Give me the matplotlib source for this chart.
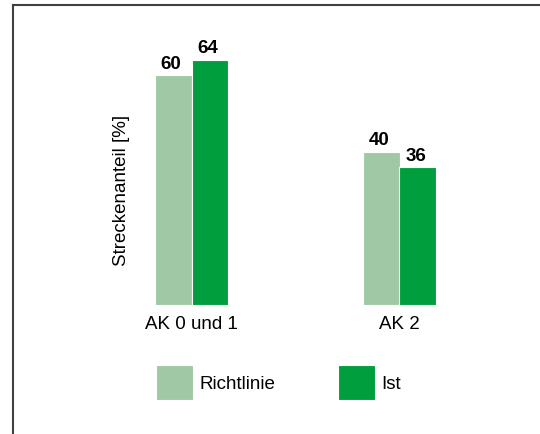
import matplotlib
matplotlib.use("Agg")
import matplotlib.pyplot as plt
from matplotlib.lines import Line2D
import numpy as np

categories = ["AK 0 und 1", "AK 2"]
series_names = ["Richtlinie", "Ist"]
richtlinie = [60, 40]
ist = [64, 36]
ylabel = "Streckenanteil [%]"

colors = ["#A0C8A5", "#009E3D"]

plt.rcParams['font.family'] = ['Liberation Sans', 'DejaVu Sans']
fs = 13.5

fig = plt.figure(figsize=(5.4, 4.35), dpi=100)
ax = fig.add_axes([87.5/540, 1-306/435, 416/540, 268/435])

x = np.arange(len(categories))
w = 0.175
off = 0.0875
b1 = ax.bar(x - off, richtlinie, w, color=colors[0], edgecolor='white', linewidth=0.8, label=series_names[0])
b2 = ax.bar(x + off, ist, w, color=colors[1], edgecolor='white', linewidth=0.8, label=series_names[1])

for bars, vals in ((b1, richtlinie), (b2, ist)):
    for r, v in zip(bars, vals):
        ax.annotate(str(v), (r.get_x() + r.get_width()/2, r.get_height()),
                    xytext=(-1.5, 2.5), textcoords='offset points', ha='center', va='bottom',
                    fontsize=fs, fontweight='bold', color='black')

ax.set_xlim(-0.5, 1.5)
ax.set_ylim(0, 70)
ax.set_xticks(x)
ax.set_xticklabels(categories, fontsize=fs)
ax.set_yticks([])
ax.tick_params(axis='x', length=0, pad=7)
for s in ax.spines.values():
    s.set_visible(False)

fig.text(121/540, 1-190/435, ylabel, rotation=90, ha='center', va='center', fontsize=fs)

leg = fig.legend(handles=[b1, b2], labels=series_names, loc='upper left',
                 bbox_to_anchor=(156/540, 1-366/435), bbox_transform=fig.transFigure,
                 ncol=2, frameon=False, fontsize=fs, handlelength=1.97, handleheight=2.5,
                 handletextpad=0.37, columnspacing=3.3, borderpad=0, borderaxespad=0)

fig.add_artist(Line2D([13/540, 13/540], [0, 1-5.5/435], transform=fig.transFigure, color='#404040', linewidth=1.5))
fig.add_artist(Line2D([13/540, 1], [1-5.5/435, 1-5.5/435], transform=fig.transFigure, color='#404040', linewidth=1.5))

fig.savefig("out.png", dpi=100)
